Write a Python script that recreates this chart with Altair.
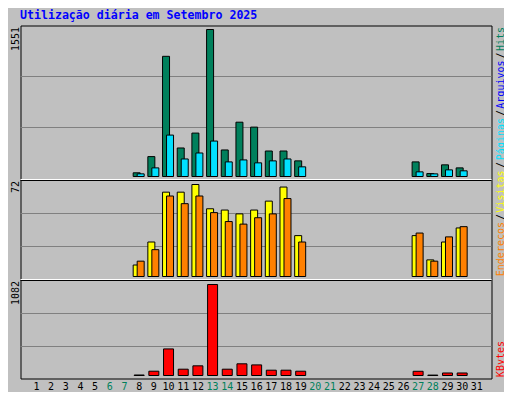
import datetime
import altair as alt
import pandas as pd

# ---------------- data ----------------
days = list(range(1, 32))
hits = [0] * 7 + [39, 210, 1268, 301, 458, 1551, 280, 573, 521, 269, 269, 165] + [0] * 7 + [154, 31, 123, 91, 0]
pages = [0] * 7 + [28, 91, 437, 185, 248, 374, 154, 175, 144, 165, 185, 102] + [0] * 7 + [49, 28, 70, 60, 0]
visits = [0] * 7 + [9, 27, 66, 66, 72, 53, 52, 49, 52, 59, 70, 32] + [0] * 7 + [32, 13, 27, 38, 0]
sites = [0] * 7 + [12, 21, 63, 57, 63, 50, 43, 41, 46, 49, 61, 27] + [0] * 7 + [34, 12, 31, 39, 0]
kbytes = [0] * 7 + [6, 51, 316, 75, 115, 1082, 75, 139, 126, 63, 63, 51] + [0] * 7 + [50, 5, 30, 30, 0]

title_text = "Utilização diária em Setembro 2025"
start = datetime.date(2025, 9, 1)
weekend = [d for d in days if d <= 30 and (start + datetime.timedelta(days=d - 1)).weekday() >= 5]

df = pd.DataFrame({"day": days, "hits": hits, "pages": pages, "visits": visits,
                   "sites": sites, "kbytes": kbytes})

# ---------------- styling / layout ----------------
MONO = "DejaVu Sans Mono"
BG = "#C0C0C0"
C_HITS, C_FILES, C_PAGES = "#00805C", "#0000FF", "#00E0FF"
C_VISITS, C_SITES, C_KB = "#FFFF00", "#FF8000", "#FF0000"
W, H = 471, 353


def dom(vmax, bottom, top, base_px, peak_px):
    k = (base_px - peak_px) / vmax
    return [-(bottom - base_px) / k, vmax + (peak_px - top) / k]


y_top = alt.Scale(domain=dom(max(hits), 155, 0, 151, 4), range=[155, 0], nice=False, zero=False)
y_mid = alt.Scale(domain=dom(max(visits), 255, 155, 251, 159), range=[255, 155], nice=False, zero=False)
y_bot = alt.Scale(domain=dom(max(kbytes), 353, 255, 350, 259), range=[353, 255], nice=False, zero=False)

wk = ",".join(str(d) for d in weekend)
x_enc = alt.X(
    "day:Q",
    scale=alt.Scale(domain=[0.7, 0.7 + W / 15], nice=False, zero=False),
    axis=alt.Axis(values=days, labelOffset=6, ticks=False, domain=False, grid=False,
                  labelFont=MONO, labelFontSize=10, labelPadding=3, labelAngle=0,
                  labelOverlap=False, labelFlush=False, title=None,
                  labelColor=alt.ExprRef(expr=f"indexof([{wk}], datum.value) >= 0 ? '{C_HITS}' : '#000000'")),
)

base = alt.Chart(df)
one = alt.Chart(pd.DataFrame({"a": [0]}))


def bars(field, scale, color, size, xoff):
    return base.mark_bar(size=size, xOffset=xoff, color=color, stroke="black",
                         strokeWidth=1, opacity=1).encode(
        x=x_enc, y=alt.Y(f"{field}:Q", scale=scale, axis=None), y2=alt.datum(0)
    ).transform_filter(f"datum.{field} > 0")


def label(text, x, y, color="black", angle=270, align="right", size=10, bold=False):
    return one.mark_text(text=text, angle=angle, align=align, baseline="alphabetic",
                         font=MONO, fontSize=size, fontWeight="bold" if bold else "normal",
                         color=color).encode(x=alt.value(x), y=alt.value(y))


lines = pd.DataFrame({
    "p": [51, 102, 188, 221, 288, 321, 154, 254, 155, 255],
    "c": ["#808080"] * 6 + ["#FFFFFF"] * 2 + ["#000000"] * 2,
})
grid = alt.Chart(lines).mark_rule(strokeWidth=1).encode(
    y=alt.Y("p:Q", scale=None), color=alt.Color("c:N", scale=None))

top = alt.layer(bars("hits", y_top, C_HITS, 7, 4), bars("pages", y_top, C_PAGES, 7, 8))
mid = alt.layer(bars("visits", y_mid, C_VISITS, 7, 4), bars("sites", y_mid, C_SITES, 7, 8))
bot = alt.layer(bars("kbytes", y_bot, C_KB, 10, 6.5))

LX = 483
legend = [
    label("Hits", LX, 1.5, C_HITS),
    label("/", LX, 27, "black"),
    label("Arquivos", LX, 35, C_FILES),
    label("/", LX, 84.5, "black"),
    label("Páginas", LX, 92.5, C_PAGES),
    label("/", LX, 136.5, "black"),
    label("Visitas", LX, 145, C_VISITS),
    label("/", LX, 188.5, "black"),
    label("Endereços", LX, 196.5, C_SITES),
    label("KBytes", LX, 315.5, C_KB),
    label(str(max(hits)), -1.5, 1.5),
    label(str(max(visits)), -1.5, 155.5),
    label(str(max(kbytes)), -1.5, 255.5),
    label(title_text, -0.5, -7, C_FILES, angle=0, align="left", size=11.6, bold=True),
]

chart = alt.layer(grid, top, mid, bot, *legend).resolve_scale(y="independent").properties(
    width=W, height=H,
    padding={"left": 12.5, "top": 17.5, "right": 12.5, "bottom": 13.5},
    autosize=alt.AutoSizeParams(type="none"),
    background=BG,
).configure_view(fill=BG, stroke="black", strokeWidth=1)

chart.save("out.html", embed_options={"renderer": "svg", "actions": False})
